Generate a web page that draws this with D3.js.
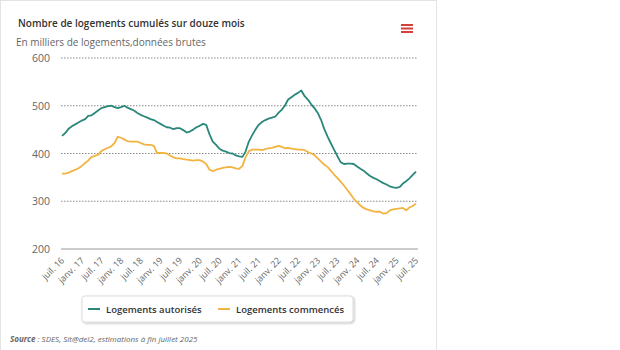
<!DOCTYPE html>
<html>
<head>
<meta charset="utf-8">
<script src="https://cdnjs.cloudflare.com/ajax/libs/d3/7.8.5/d3.min.js"></script>
<style>
  body { margin: 0; background: #fff; font-family: "Open Sans", sans-serif; }
</style>
</head>
<body>
<div id="chart"></div>
<script>
const width = 620;
const height = 350;
const margin = { top: 58, right: 202, bottom: 101, left: 62 };

const startYear = 2016, startMonth = 6; // juil. 2016
const tickLabels = ["juil. 16", "janv. 17", "juil. 17", "janv. 18", "juil. 18", "janv. 19", "juil. 19",
  "janv. 20", "juil. 20", "janv. 21", "juil. 21", "janv. 22", "juil. 22", "janv. 23", "juil. 23",
  "janv. 24", "juil. 24", "janv. 25", "juil. 25"];
const yTicks = [200, 300, 400, 500, 600];

const autorises = [
  437, 443, 452, 457, 461, 465, 469, 472, 479, 480, 485, 490,
  495, 497, 499, 500, 497, 495, 497, 500, 496, 493, 490, 485,
  481, 478, 475, 472, 470, 466, 462, 458, 455, 454, 451, 453,
  453, 449, 444, 446, 450, 455, 458, 462, 460, 440, 425, 418,
  410, 406, 404, 401, 400, 396, 394, 393, 404, 425, 438, 450,
  460, 466, 470, 473, 475, 477, 485, 492, 500, 513, 518, 523,
  527, 532, 520, 513, 503, 495, 485, 470, 452, 436, 422, 408,
  395, 382, 378, 379, 379, 378, 373, 368, 364, 358, 353, 349,
  346, 342, 338, 335, 331, 329, 328, 330, 337, 342, 348, 355,
  362
];
const commences = [
  358, 358, 360, 363, 366, 369, 374, 380, 385, 393, 395, 397,
  405, 409, 412, 415, 422, 435, 433, 429, 426, 425, 425, 425,
  422, 419, 418, 418, 416, 401, 401, 401, 400, 396, 392, 390,
  390, 388, 387, 386, 385, 386, 386, 383, 378, 366, 363, 366,
  368, 370, 371, 372, 371, 369, 368, 374, 392, 405, 408, 408,
  408, 407, 409, 411, 412, 414, 416, 414, 411, 412, 410, 409,
  408, 408, 407, 403, 400, 397, 390, 383, 377, 372, 364, 356,
  349, 341, 333, 324, 315, 305, 298, 291, 286, 283, 281, 279,
  278, 278, 274, 275, 281, 283, 284, 285, 286, 281, 287, 290,
  295
];
const seriesNames = ["Logements autorisés", "Logements commencés"];
const colors = ["#2b877a", "#f2b441"];

const dates = autorises.map((_, i) => new Date(startYear, startMonth + i, 1));

const svg = d3.select("#chart").append("svg")
  .attr("width", width)
  .attr("height", height);

// card
svg.append("rect")
  .attr("x", 0.5).attr("y", 0.5)
  .attr("width", 436).attr("height", height + 10)
  .attr("fill", "#fff")
  .attr("stroke", "#e3e3e3");

svg.append("text")
  .attr("x", 18).attr("y", 27)
  .attr("font-size", "10px")
  .attr("font-weight", 600)
  .attr("fill", "#333")
  .text("Nombre de logements cumulés sur douze mois");

svg.append("text")
  .attr("x", 16).attr("y", 46)
  .attr("font-size", "10px")
  .attr("fill", "#666")
  .text("En milliers de logements,données brutes");

// menu icon
[0, 1, 2].forEach(i => {
  svg.append("rect")
    .attr("x", 401).attr("y", 24 + i * 3.5)
    .attr("width", 12).attr("height", 2)
    .attr("fill", "#d6403a");
});

const innerW = width - margin.left - margin.right;
const innerH = height - margin.top - margin.bottom;

const x = d3.scaleTime()
  .domain([dates[0], dates[dates.length - 1]])
  .range([0, innerW - 2]);
const y = d3.scaleLinear().domain([200, 600]).range([innerH, 0]);

const g = svg.append("g").attr("transform", `translate(${margin.left},${margin.top})`);

// grid lines
g.selectAll(".grid")
  .data(yTicks)
  .join("line")
  .attr("x1", -1).attr("x2", innerW)
  .attr("y1", d => y(d)).attr("y2", d => y(d))
  .attr("stroke", d => d === 200 ? "#9a9a9a" : "#8a8a8a")
  .attr("stroke-width", d => d === 200 ? 1.2 : 1)
  .attr("stroke-dasharray", d => d === 200 ? null : "1.5,1.5");

g.selectAll(".ylab")
  .data(yTicks)
  .join("text")
  .attr("x", -12).attr("y", d => y(d) + 4)
  .attr("text-anchor", "end")
  .attr("font-size", "10.5px")
  .attr("fill", "#666")
  .text(d => d);

// x labels every 6 months
const tickDates = tickLabels.map((_, i) => new Date(startYear, startMonth + i * 6, 1));
g.selectAll(".xlab")
  .data(tickDates)
  .join("text")
  .attr("transform", d => `translate(${x(d) + 3},${innerH + 12}) rotate(-45)`)
  .attr("text-anchor", "end")
  .attr("font-size", "9px")
  .attr("fill", "#666")
  .text((d, i) => tickLabels[i]);

const line = d3.line()
  .x((d, i) => x(dates[i]))
  .y(d => y(d));

[autorises, commences].forEach((s, k) => {
  g.append("path")
    .datum(s)
    .attr("fill", "none")
    .attr("stroke", colors[k])
    .attr("stroke-width", 1.8)
    .attr("stroke-linejoin", "round")
    .attr("d", line);
});

// legend
const defs = svg.append("defs");
const filter = defs.append("filter").attr("id", "shadow").attr("x", "-10%").attr("y", "-30%")
  .attr("width", "120%").attr("height", "160%");
filter.append("feDropShadow").attr("dx", 1).attr("dy", 1).attr("stdDeviation", 1.2)
  .attr("flood-color", "#000").attr("flood-opacity", 0.25);

svg.append("rect")
  .attr("x", 82).attr("y", 296)
  .attr("width", 271).attr("height", 26)
  .attr("rx", 3)
  .attr("fill", "#fff")
  .attr("stroke", "#ddd")
  .attr("filter", "url(#shadow)");

const legendX = [88, 218];
seriesNames.forEach((name, k) => {
  svg.append("line")
    .attr("x1", legendX[k]).attr("x2", legendX[k] + 12)
    .attr("y1", 309).attr("y2", 309)
    .attr("stroke", colors[k])
    .attr("stroke-width", 2);
  svg.append("text")
    .attr("x", legendX[k] + 18).attr("y", 312.5)
    .attr("font-size", "9.5px")
    .attr("font-weight", 600)
    .attr("fill", "#333")
    .text(name);
});

const src = svg.append("text")
  .attr("x", 10).attr("y", 342)
  .attr("font-size", "8px")
  .attr("font-style", "italic")
  .attr("fill", "#666");
src.append("tspan").attr("font-weight", 700).text("Source");
src.append("tspan").text(" : SDES, Sit@del2, estimations à fin juillet 2025");
</script>
</body>
</html>
